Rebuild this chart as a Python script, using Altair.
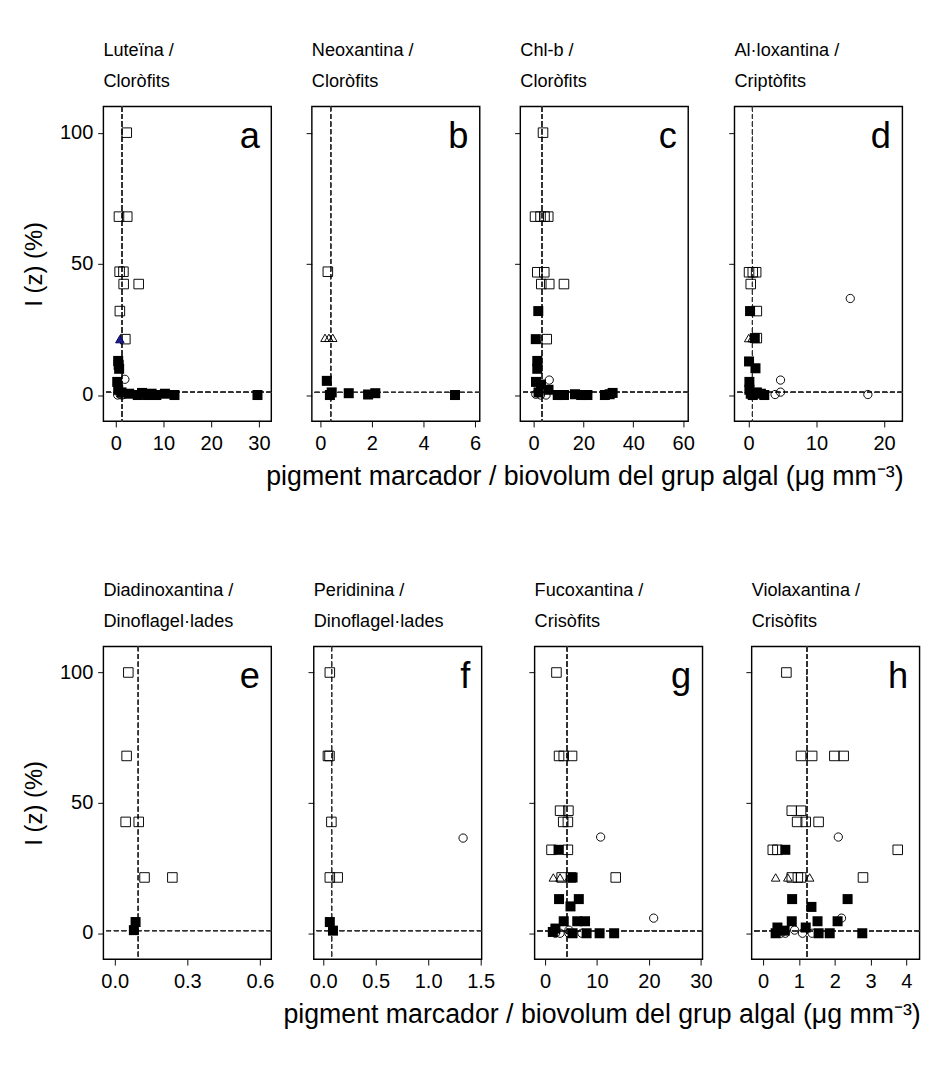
import altair as alt
import pandas as pd

FONT = "Liberation Sans"

# ---- data: x = pigment marker / algal group biovolume, y = I(z) (%) ----
# kinds: o = open square, f = filled square, c = open circle, t = open triangle, T = blue triangle
A_X = [2.3, 0.66, 2.4, 0.8, 1.6, 1.65, 4.8, 0.85, 2.0, 0.85,
       0.5, 0.6, 0.7, 0.3, 0.5, 1.2, 2.8, 4.6, 5.5, 6.6, 7.5, 8.5, 10.3, 12.3, 29.7,
       1.9, 0.4, 0.9, 1.3, 1.7]
A_Y = [100, 68, 68, 47, 47, 42.3, 42.3, 32, 21.3, 21.3,
       13, 11.5, 10, 5, 2, 1, 0.5, 0, 0.8, 0, 0.5, 0, 0.5, 0, 0,
       6, 0, 0.3, 0, 0.3]
A_K = ["o"] * 9 + ["T"] + ["f"] * 15 + ["c"] * 5

B_X = [0.29, 0.18, 0.33, 0.48, 0.25, 0.44, 0.37, 1.1, 1.85, 2.13, 5.22]
B_Y = [47, 21.8, 21.8, 21.8, 5.4, 1.0, 0, 0.7, 0.2, 0.7, 0]
B_K = ["o"] + ["t"] * 3 + ["f"] * 7

C_X = [3.8, 0.6, 2.8, 4.4, 5.9, 1.5, 4.3, 3.1, 6.3, 12.2, 5.3,
       1.9, 0.9, 1.5, 1.5, 1.0, 3.0, 6.0, 2.0, 9.7, 12.2, 16.6, 19.1, 21.6, 28.6, 31.7, 30.5,
       1.3, 6.3, 0.9, 2.8, 5.0]
C_Y = [100, 68, 68, 68, 68, 46.8, 46.8, 42.3, 42.3, 42.3, 21.3,
       32, 21.3, 13, 10, 5, 4, 2, 1, 0, 0, 0.3, 0, 0, 0, 0.8, 0.3,
       21.3, 5.7, 0.3, 0, 0]
C_K = ["o"] * 11 + ["f"] * 16 + ["t"] + ["c"] * 4

D_X = [0.05, 0.6, 1.1, 0.3, 1.2, 1.2,
       0.2, 0.9, 0.05, 1.0, 0.1, 0.1, 0.6, 1.2, 1.8, 2.3, 0.3,
       0.0, 0.5,
       15.0, 4.7, 3.9, 4.7, 17.6]
D_Y = [46.8, 46.8, 46.8, 42.3, 32, 21.7,
       32, 21.7, 12.8, 10.2, 5, 2, 0, 1, 0.5, 0, 0.5,
       21.7, 21.7,
       36.8, 5.7, 0.2, 1.1, 0.2]
D_K = ["o"] * 6 + ["f"] * 11 + ["t"] * 2 + ["c"] * 5

E_X = [0.056, 0.049, 0.045, 0.099, 0.123, 0.238, 0.086, 0.079]
E_Y = [100, 68, 42.7, 42.7, 21.4, 21.4, 4.3, 1.2]
E_K = ["o"] * 6 + ["f"] * 2

F_X = [0.063, 0.045, 0.06, 0.078, 0.063, 0.138, 0.063, 0.093, 1.333]
F_Y = [100, 68, 68, 42.7, 21.4, 21.4, 4.3, 1.0, 36.5]
F_K = ["o"] * 6 + ["f"] * 2 + ["c"]

G_X = [2.2, 2.7, 3.6, 5.2, 2.9, 4.5, 3.5, 4.4, 1.25, 4.4, 3.2, 5.0, 13.6,
       1.6, 2.9, 4.6,
       2.6, 5.3, 2.7, 6.5, 4.9, 3.6, 6.2, 7.7, 2.0, 5.3, 8.0, 10.5, 13.3, 1.5,
       10.7, 20.9, 2.0, 2.9, 4.6, 4.6, 7.1]
G_Y = [100, 68, 68, 68, 47, 47, 42.7, 42.7, 32, 32, 21.4, 21.4, 21.4,
       21.4, 21.4, 21.4,
       32, 21.4, 13.1, 13.1, 10.3, 4.6, 4.6, 4.6, 1.8, 0, 0, 0, 0, 0.5,
       36.9, 5.8, 0, 0, 1.2, 0, 0]
G_K = ["o"] * 13 + ["t"] * 3 + ["f"] * 14 + ["c"] * 7

H_X = [0.65, 1.06, 1.37, 1.99, 2.25, 0.80, 1.06, 0.95, 1.19, 1.55, 0.27, 0.40, 3.76,
       0.80, 0.97, 1.06, 2.79,
       0.35, 0.69, 1.30,
       0.62, 0.81, 2.36, 1.35, 0.80, 1.52, 2.08, 0.40, 1.19, 0.35, 1.55, 1.86, 2.77, 0.6,
       2.10, 2.19, 0.49, 0.62, 0.88, 1.1, 1.37]
H_Y = [100, 68, 68, 68, 68, 47, 47, 42.7, 42.7, 42.7, 32, 32, 32,
       21.4, 21.4, 21.4, 21.4,
       21.4, 21.4, 21.4,
       32, 13.1, 13.1, 10.1, 4.6, 4.6, 4.6, 2.2, 2.2, 0, 0, 0, 0, 1,
       36.9, 5.8, 0, 0, 1.2, 0, 0]
H_K = ["o"] * 17 + ["t"] * 3 + ["f"] * 14 + ["c"] * 7

PANELS_TOP = [
    dict(x=A_X, y=A_Y, k=A_K, dom=[-2.6, 32.6], ticks=[0, 10, 20, 30], fmt="d", v=1.3,
         letter="a", header=("Luteïna /", "Cloròfits"), show_y=True),
    dict(x=B_X, y=B_Y, k=B_K, dom=[-0.33, 6.18], ticks=[0, 2, 4, 6], fmt="d", v=0.40,
         letter="b", header=("Neoxantina /", "Cloròfits"), show_y=False),
    dict(x=C_X, y=C_Y, k=C_K, dom=[-5.3, 62], ticks=[0, 20, 40, 60], fmt="d", v=3.4,
         letter="c", header=("Chl-b /", "Cloròfits"), show_y=False),
    dict(x=D_X, y=D_Y, k=D_K, dom=[-2.1, 22.7], ticks=[0, 10, 20], fmt="d", v=0.56,
         letter="d", header=("Al·loxantina /", "Criptòfits"), show_y=False),
]
PANELS_BOTTOM = [
    dict(x=E_X, y=E_Y, k=E_K, dom=[-0.047, 0.647], ticks=[0, 0.3, 0.6], fmt=".1f", v=0.097,
         letter="e", header=("Diadinoxantina /", "Dinoflagel·lades"), show_y=True),
    dict(x=F_X, y=F_Y, k=F_K, dom=[-0.09, 1.51], ticks=[0, 0.5, 1.0, 1.5], fmt=".1f", v=0.08,
         letter="f", header=("Peridinina /", "Dinoflagel·lades"), show_y=False),
    dict(x=G_X, y=G_Y, k=G_K, dom=[-2.0, 30.3], ticks=[0, 10, 20, 30], fmt="d", v=4.3,
         letter="g", header=("Fucoxantina /", "Crisòfits"), show_y=False),
    dict(x=H_X, y=H_Y, k=H_K, dom=[-0.32, 4.37], ticks=[0, 1, 2, 3, 4], fmt="d", v=1.22,
         letter="h", header=("Violaxantina /", "Crisòfits"), show_y=False),
]

Y_TICKS = [0, 50, 100]
Y_DOM = [-10, 110]
H_LINE = 1
X_TITLE = "pigment marcador / biovolum del grup algal (μg mm⁻³)"
Y_TITLE = "I (z) (%)"
W = 176


def text_layer(txt, size, align, baseline, x, y):
    return alt.Chart(pd.DataFrame({"t": [txt]})).mark_text(
        fontSize=size, font=FONT, align=align, baseline=baseline, color="black"
    ).encode(text="t:N", x=alt.value(x), y=alt.value(y))


def panel(p, h):
    df = pd.DataFrame({"x": p["x"], "y": p["y"], "k": p["k"]})
    xenc = alt.X("x:Q", scale=alt.Scale(domain=p["dom"], nice=False, zero=False),
                 axis=alt.Axis(values=p["ticks"], format=p["fmt"], title=None, grid=False,
                               domain=False, ticks=True, tickSize=6, tickColor="black",
                               labelFontSize=21, labelColor="black", labelFont=FONT,
                               labelPadding=7, labelFlush=False))
    yenc = alt.Y("y:Q", scale=alt.Scale(domain=Y_DOM, nice=False, zero=False),
                 axis=alt.Axis(values=Y_TICKS, title=Y_TITLE if p["show_y"] else None,
                               labels=p["show_y"], grid=False, domain=False, ticks=True,
                               tickSize=6, tickColor="black", labelFontSize=21,
                               labelColor="black", labelFont=FONT, labelPadding=5,
                               titleFontSize=25, titleFont=FONT, titleFontWeight="normal",
                               titleColor="black", titlePadding=14))
    base = alt.Chart(df)
    vrule = base.mark_rule(strokeDash=[5, 3], color="#333333", strokeWidth=1).encode(
        x=alt.datum(p["v"]))
    hrule = base.mark_rule(strokeDash=[5, 3], color="#333333", strokeWidth=1).encode(
        y=alt.datum(H_LINE))
    filled = base.transform_filter(alt.datum.k == "f").mark_point(
        shape="square", filled=True, color="black", size=110, opacity=1).encode(x=xenc, y=yenc)
    opensq = base.transform_filter(alt.datum.k == "o").mark_point(
        shape="square", filled=False, color="black", size=100, opacity=1, strokeWidth=1
    ).encode(x=xenc, y=yenc)
    circ = base.transform_filter(alt.datum.k == "c").mark_point(
        shape="circle", filled=False, color="black", size=75, opacity=1, strokeWidth=1
    ).encode(x=xenc, y=yenc)
    tri = base.transform_filter(alt.datum.k == "t").mark_point(
        shape="triangle-up", filled=False, color="black", size=80, opacity=1, strokeWidth=1
    ).encode(x=xenc, y=yenc)
    trib = base.transform_filter(alt.datum.k == "T").mark_point(
        shape="triangle-up", filled=True, color="#1a1a8c", size=80, opacity=1,
        stroke="#000060", strokeWidth=1
    ).encode(x=xenc, y=yenc)
    letter = text_layer(p["letter"], 38, "right", "alphabetic", W - 12, 44)
    head1 = text_layer(p["header"][0], 19, "left", "middle", 0, -59)
    head2 = text_layer(p["header"][1], 19, "left", "middle", 0, -26)
    return alt.layer(vrule, hrule, filled, opensq, circ, tri, trib, letter, head1, head2
                     ).properties(width=W, height=h)


def row(panels, h):
    return alt.hconcat(*[panel(p, h) for p in panels], spacing=32.5,
                       title=alt.TitleParams(X_TITLE, orient="bottom", anchor="end",
                                             fontSize=28, font=FONT, fontWeight="normal",
                                             color="black", offset=10))


chart = alt.vconcat(row(PANELS_TOP, 330), row(PANELS_BOTTOM, 328),
                    spacing=94).properties(
    padding={"left": 14, "top": 9, "right": 0, "bottom": 0}
).configure_view(stroke="black", strokeWidth=1.5)

chart.save("out.html", embed_options={"renderer": "svg", "actions": False})
